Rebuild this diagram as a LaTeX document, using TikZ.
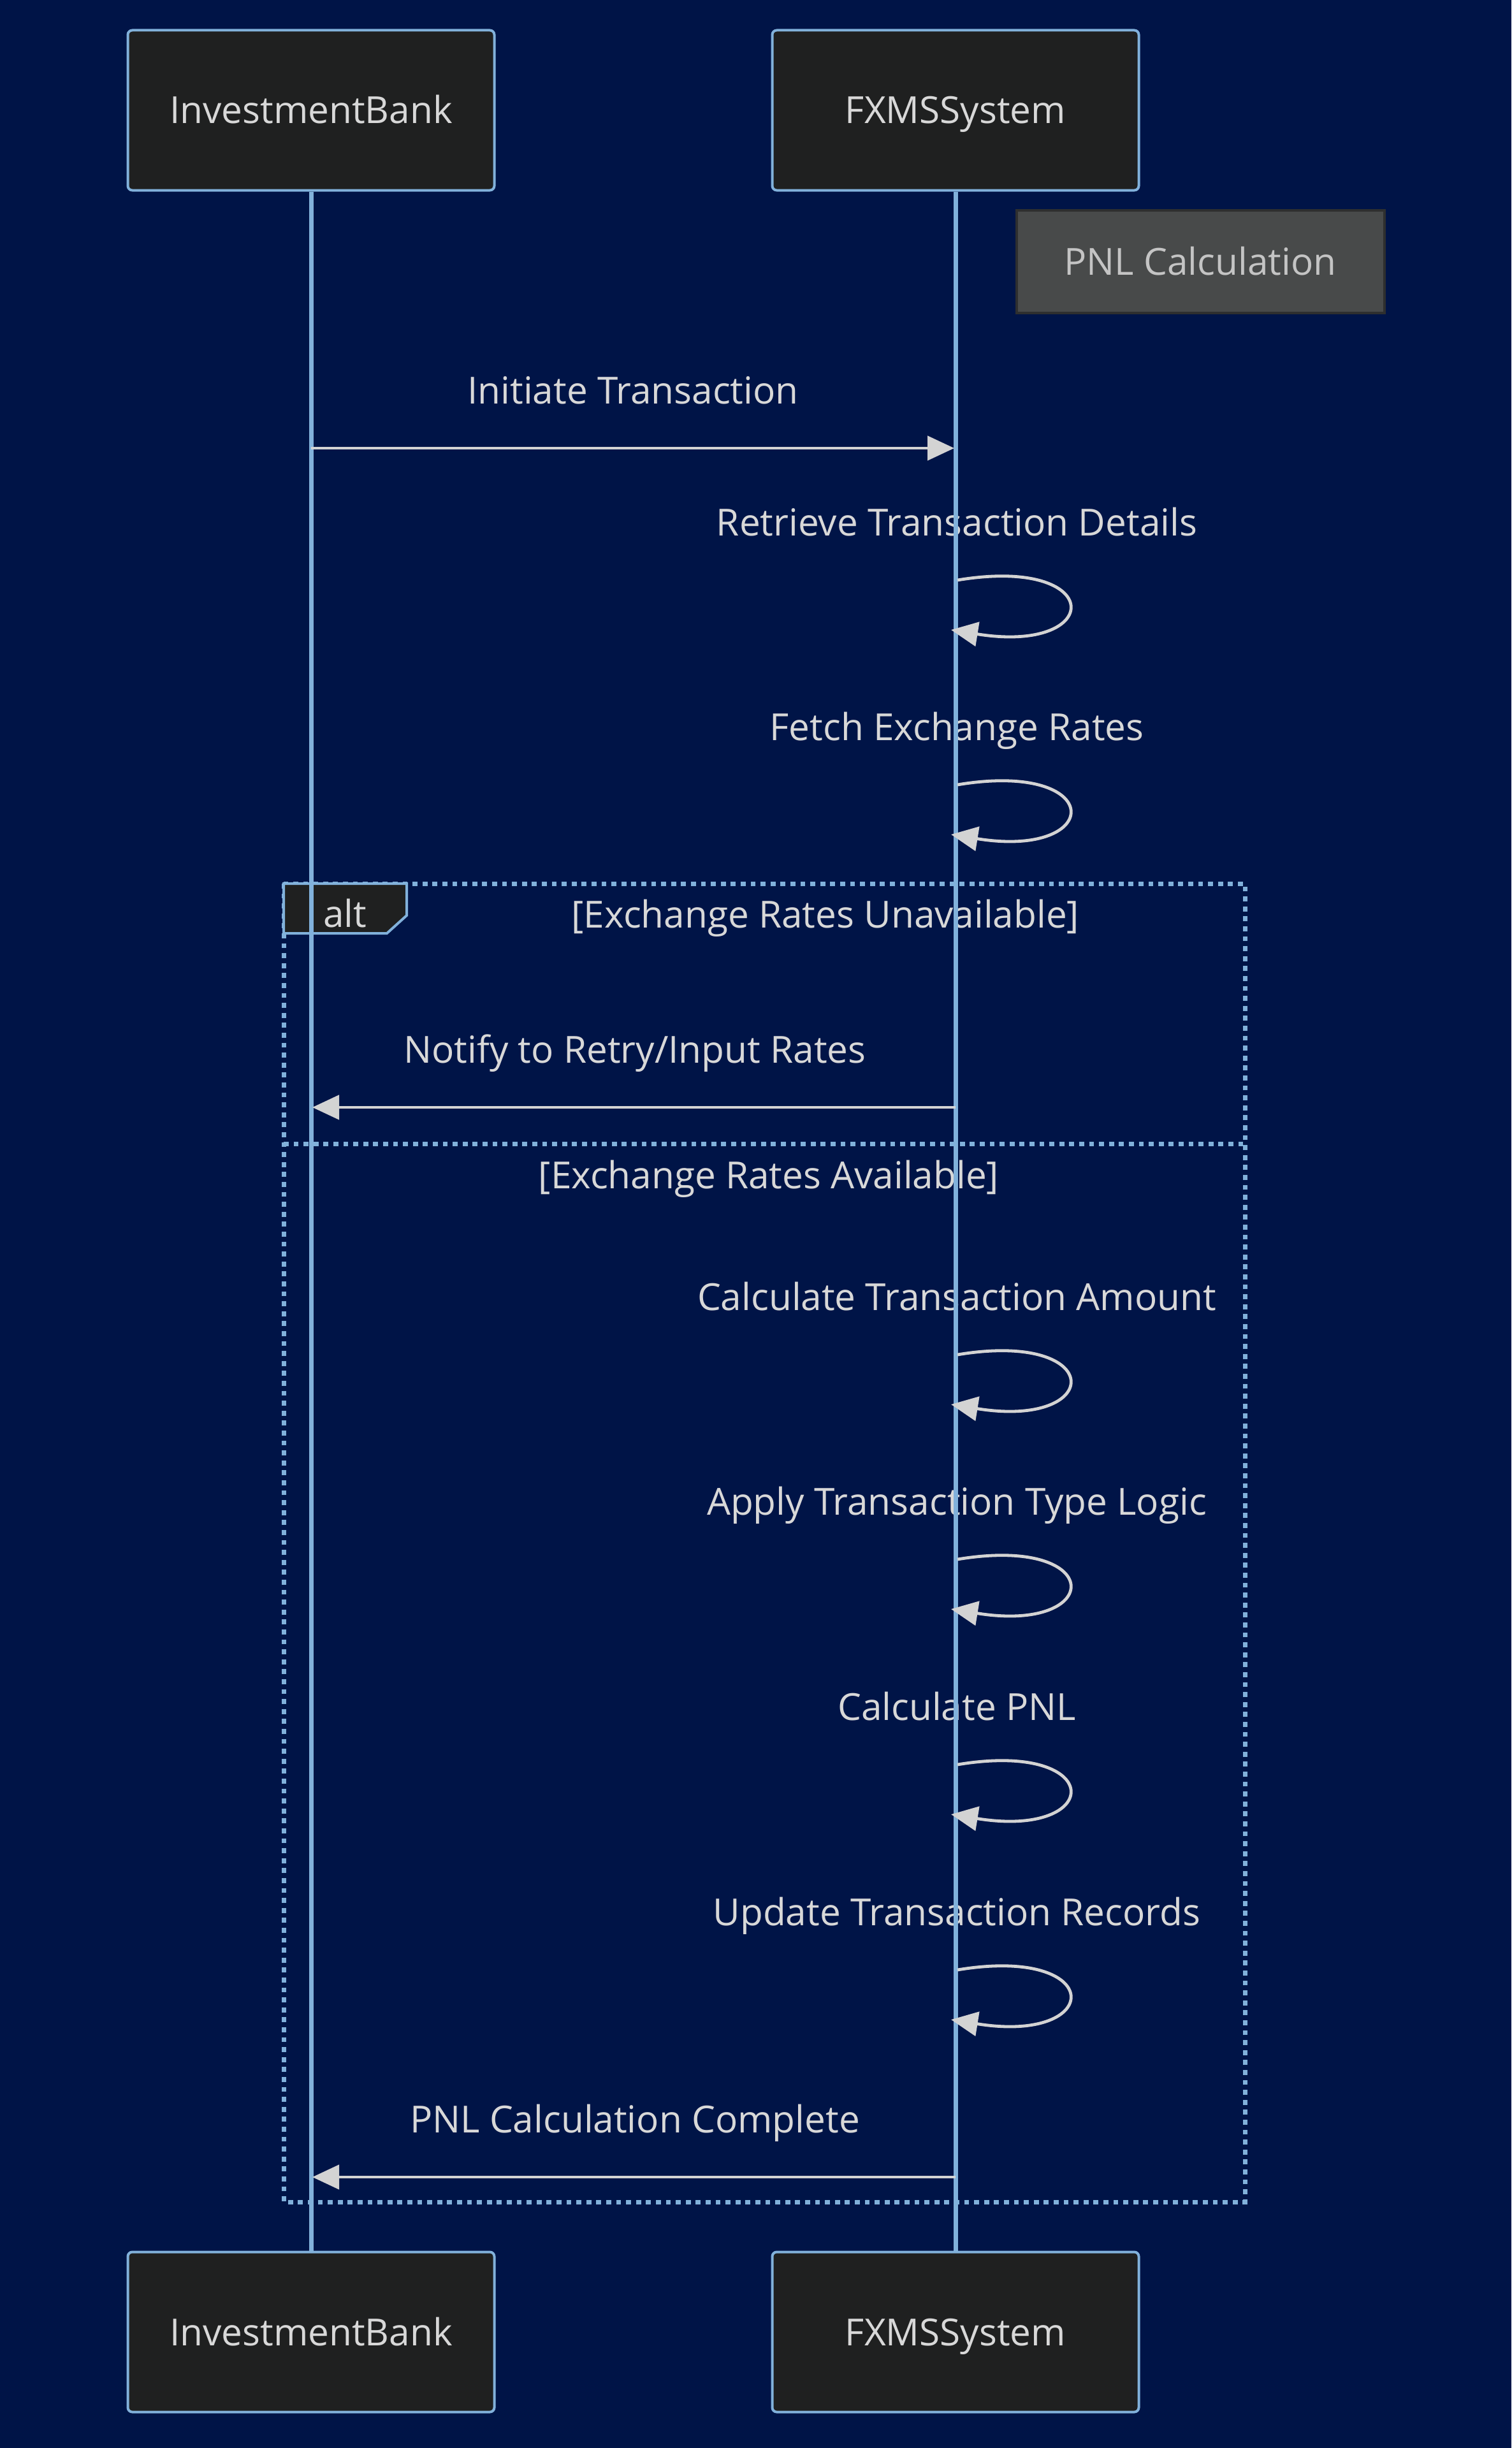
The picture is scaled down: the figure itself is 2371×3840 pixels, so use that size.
\documentclass[tikz,border=0pt]{standalone}
\usepackage{fontspec}
\setmainfont{Open Sans}
\usetikzlibrary{arrows.meta}
\definecolor{bgnavy}{HTML}{001447}
\definecolor{actorfill}{HTML}{1F2020}
\definecolor{lineblue}{HTML}{81B1DB}
\definecolor{txtgrey}{HTML}{D8D8D8}
\definecolor{arrowgrey}{HTML}{D3D3D3}
\definecolor{notefill}{HTML}{484A4A}
\definecolor{noteedge}{HTML}{2E2F2F}
\definecolor{notetext}{HTML}{C4C4C4}
\newcommand{\seqfont}{\fontsize{58.5}{70}\selectfont}
\tikzset{
  actor/.style={draw=lineblue,fill=actorfill,line width=4pt,rounded corners=7pt,
    minimum width=575pt,minimum height=251pt,inner sep=0pt,
    text=txtgrey,font=\seqfont,text height=42pt,text depth=0pt},
  pnlnote/.style={draw=noteedge,fill=notefill,line width=4pt,
    minimum width=577pt,minimum height=161pt,inner sep=0pt,
    text=notetext,font=\seqfont,text height=42pt,text depth=0pt},
  msgtext/.style={text=txtgrey,font=\seqfont,anchor=base,inner sep=0pt},
  lifeline/.style={draw=lineblue,line width=7pt},
  msg/.style={draw=arrowgrey,line width=4.8pt,-{Triangle[length=42pt,width=38pt]}},
  altframe/.style={draw=lineblue,line width=7pt,dash pattern=on 7.8pt off 7.8pt},
  altlabel/.style={draw=lineblue,fill=actorfill,line width=4pt}
}
\begin{document}
\begin{tikzpicture}[x=1pt,y=-1pt]
\fill[bgnavy] (0,0) rectangle (2371,3840);
\useasboundingbox (0,0) rectangle (2371,3840);
% participants
\node[actor] (IBtop) at (488,173) {InvestmentBank};
\node[actor] (FXtop) at (1499,173) {FXMSSystem};
\node[actor] (IBbot) at (488,3658) {InvestmentBank};
\node[actor] (FXbot) at (1499,3658) {FXMSSystem};
\node[pnlnote] (calcnote) at (1883,410) {PNL Calculation};
% alt block
\draw[altframe] (445,1386) rectangle (1953,3454);
\draw[altframe] (445,1794) -- (1953,1794);
\filldraw[altlabel] (445,1386) -- (638,1386) -- (638,1436) -- (607,1464) -- (445,1464) -- cycle;
\node[msgtext] (alttag) at (541,1454) {alt};
\node[msgtext] (guardA) at (1295,1455) {[Exchange Rates Unavailable]};
\node[msgtext] (guardB) at (1206,1864) {[Exchange Rates Available]};
% message labels
\node[msgtext] (initlbl) at (993,633) {Initiate Transaction};
\node[msgtext] (notifylbl) at (996,1667) {Notify to Retry/Input Rates};
\node[msgtext] (donelbl) at (996,3345) {PNL Calculation Complete};
\foreach \y/\txt [count=\i] in {910/Retrieve Transaction Details,
    1231/Fetch Exchange Rates, 2125/Calculate Transaction Amount,
    2446/Apply Transaction Type Logic, 2768/Calculate PNL,
    3090/Update Transaction Records}
  \node[msgtext] (selflbl\i) at (1501,\y-70) {\txt};
% lifelines
\draw[lifeline] (IBtop.south) -- (IBbot.north);
\draw[lifeline] (FXtop.south) -- (FXbot.north);
% messages
\coordinate (IBa) at (488,703);
\coordinate (FXa) at (1497,703);
\coordinate (IBb) at (490,1737);
\coordinate (FXb) at (1499,1737);
\coordinate (IBc) at (490,3415);
\coordinate (FXc) at (1499,3415);
\draw[msg] (IBa) -- (FXa);
\draw[msg] (FXb) -- (IBb);
\draw[msg] (FXc) -- (IBc);
\foreach \y [count=\i] in {910,1231,2125,2446,2768,3090}{
  \coordinate (lpA\i) at (1502,\y);
  \coordinate (lpB\i) at (1492,\y+78);
  \draw[msg] (lpA\i) .. controls +(234,-39) and +(241,39) .. (lpB\i);
}
\end{tikzpicture}
\end{document}
